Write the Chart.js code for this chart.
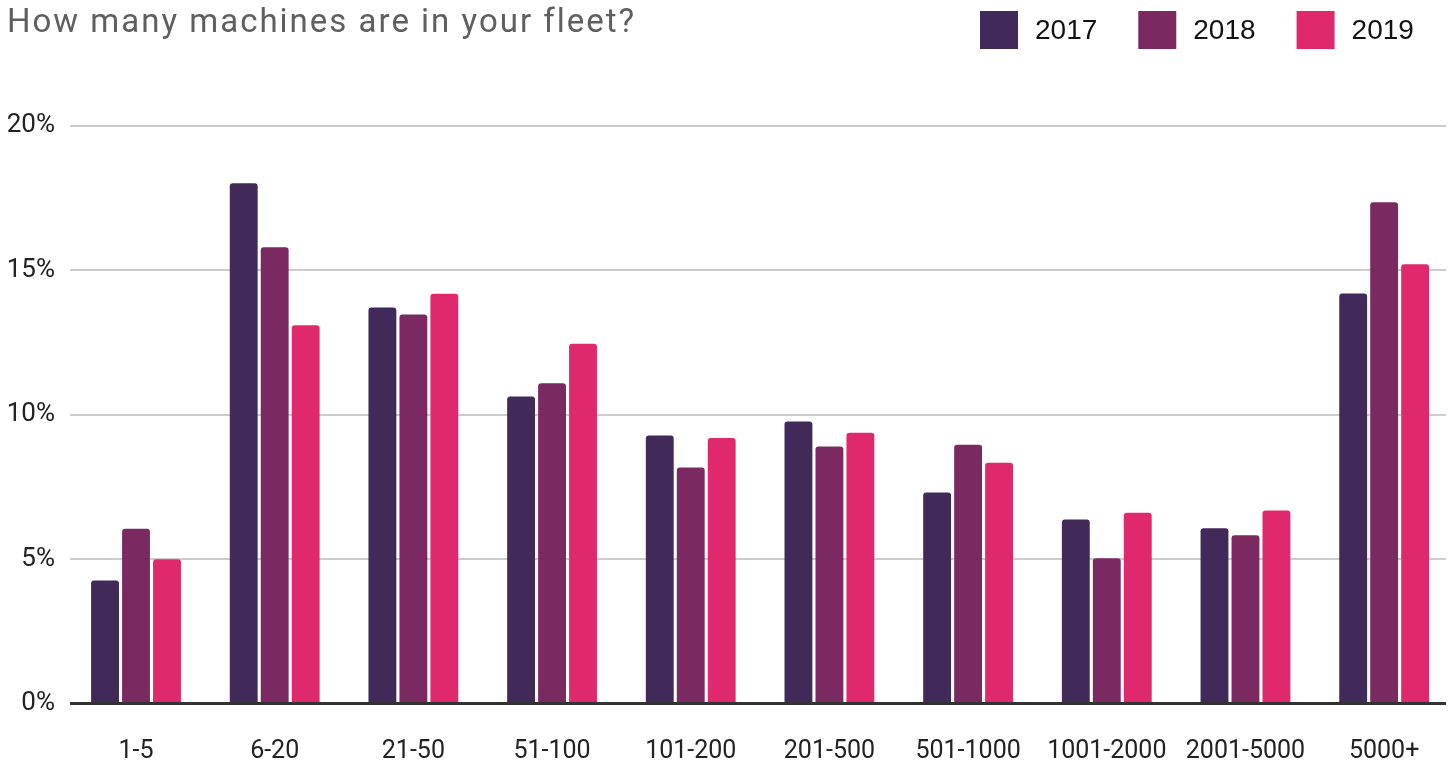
<!DOCTYPE html>
<html><head><meta charset="utf-8">
<script src="https://cdn.jsdelivr.net/npm/chart.js@4.4.1/dist/chart.umd.min.js"></script>
<style>html,body{margin:0;padding:0;background:#fff;overflow:hidden}#wrap{width:1452px;height:762px;position:relative}</style>
</head><body><div id="wrap"><canvas id="c" width="1452" height="762"></canvas></div>
<script>
const chartTitle = 'How many machines are in your fleet?';
const categories = ['1-5','6-20','21-50','51-100','101-200','201-500','501-1000','1001-2000','2001-5000','5000+'];
const seriesNames = ['2017','2018','2019'];
const seriesColors = ['#41295a','#7a2a61','#e0296c'];
const values2017 = [4.26, 18.0, 13.70, 10.62, 9.27, 9.76, 7.30, 6.37, 6.06, 14.19];
const values2018 = [6.05, 15.79, 13.46, 11.08, 8.17, 8.89, 8.95, 5.03, 5.82, 17.34];
const values2019 = [4.99, 13.09, 14.18, 12.45, 9.19, 9.37, 8.33, 6.60, 6.68, 15.20];
const yTickValues = [0, 5, 10, 15, 20];
const xRangeMin = -0.476, xRangeMax = 9.446;

const headerPlugin = {
  id: 'header',
  afterDraw(chart) {
    const ctx = chart.ctx;
    ctx.save();
    ctx.font = '33px Roboto';
    try { ctx.letterSpacing = '2px'; } catch (e) {}
    ctx.fillStyle = '#5f5f5f';
    ctx.textAlign = 'left';
    ctx.textBaseline = 'alphabetic';
    ctx.fillText(chartTitle, 7, 32);
    try { ctx.letterSpacing = '0px'; } catch (e) {}
    ctx.font = '28px "Liberation Sans", Arial, sans-serif';
    ctx.textBaseline = 'middle';
    let x = 980;
    chart.data.datasets.forEach(ds => {
      ctx.fillStyle = ds.backgroundColor;
      ctx.fillRect(x, 11, 38, 38);
      ctx.fillStyle = '#111';
      ctx.fillText(ds.label, x + 55, 31);
      x += 55 + ctx.measureText(ds.label).width + 41;
    });
    ctx.restore();
  }
};

const allValues = [values2017, values2018, values2019];
new Chart(document.getElementById('c'), {
  type: 'bar',
  data: {
    labels: categories,
    datasets: seriesNames.map((n, i) => ({
      label: n,
      data: allValues[i],
      backgroundColor: seriesColors[i],
      borderRadius: 3,
      borderSkipped: 'start',
      barPercentage: 0.9,
      categoryPercentage: 0.67
    }))
  },
  options: {
    responsive: false,
    animation: false,
    layout: { padding: { top: 125.5, left: 0, right: 6, bottom: 0 } },
    plugins: { legend: { display: false }, title: { display: false }, tooltip: { enabled: false } },
    scales: {
      x: {
        type: 'category',
        offset: false,
        grid: { display: false },
        border: { display: false },
        ticks: { font: { family: 'Roboto', size: 25 }, color: '#222', padding: 25, maxRotation: 0, autoSkip: false },
        afterBuildTicks(scale) {
          scale._startValue = xRangeMin;
          scale._valueRange = xRangeMax - xRangeMin;
        },
        afterFit(scale) { scale.height = 58.5; scale.paddingLeft = 0; scale.paddingRight = 0; }
      },
      y: {
        min: yTickValues[0],
        max: yTickValues[yTickValues.length - 1],
        afterBuildTicks(scale) { scale.ticks = yTickValues.map(v => ({ value: v })); },
        ticks: { callback: v => v + '%', font: { family: 'Roboto', size: 26 }, color: '#222', padding: 15 },
        grid: {
          drawTicks: false,
          color: c => (c.tick && c.tick.value === 0) ? '#333333' : '#cccccc',
          lineWidth: c => (c.tick && c.tick.value === 0) ? 3 : 2
        },
        border: { display: false },
        afterFit(scale) { scale.width = 70; }
      }
    }
  },
  plugins: [headerPlugin]
});
</script>
</body></html>
